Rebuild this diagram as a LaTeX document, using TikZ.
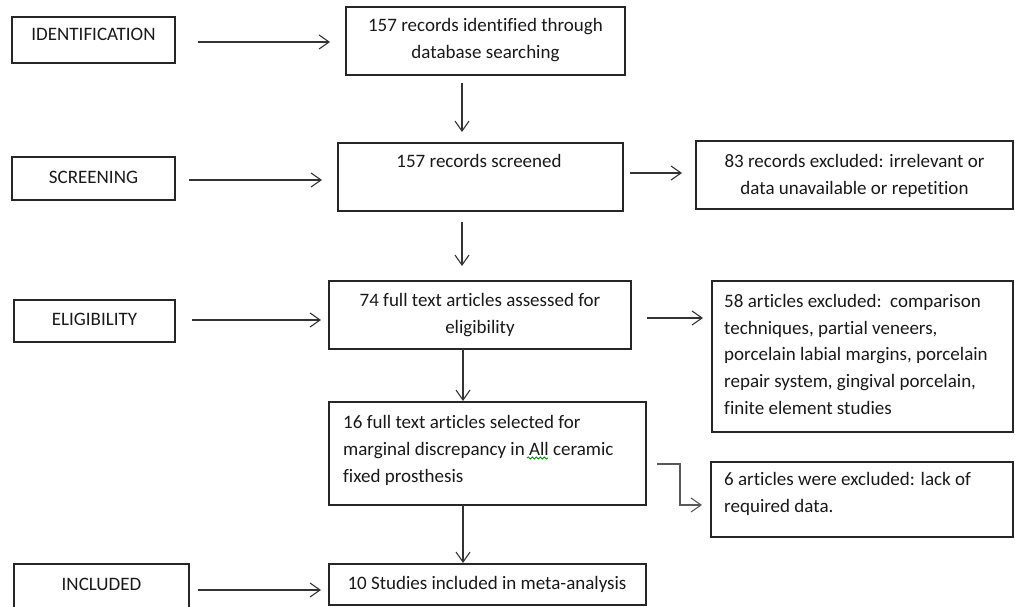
\documentclass[tikz,border=0pt]{standalone}
\usepackage{fontspec}
\setmainfont{Carlito}[Ligatures=NoCommon]
\usetikzlibrary{arrows.meta,calc,decorations.pathmorphing}
\begin{document}
\begin{tikzpicture}[x=1pt,y=-1pt,
  box/.style={draw=black!85, line width=1.2pt, anchor=north west, inner sep=0pt, outer sep=0pt},
  txt/.style={font=\fontsize{19}{26.8}\selectfont, inner sep=0pt, text=black!90},
  arr/.style={draw=black!80, line width=1.1pt, -{Straight Barb[length=10pt,width=14pt,line width=1.1pt]}},
  squiggle/.style={draw=green!55!black, line width=0.8pt, decorate, decoration={snake, segment length=4pt, amplitude=1.1pt}}]
\useasboundingbox (0,0) rectangle (1015,607);
% boxes
\node[box, minimum width=163pt, minimum height=46pt] (idb) at (12,17) {};
\node[box, minimum width=279pt, minimum height=68pt] (rec1) at (346,7) {};
\node[box, minimum width=163pt, minimum height=43pt] (scrb) at (12,157) {};
\node[box, minimum width=285pt, minimum height=68pt] (rec2) at (338,143) {};
\node[box, minimum width=317pt, minimum height=68pt] (exc1) at (696,141) {};
\node[box, minimum width=161pt, minimum height=42pt] (elb) at (14,300) {};
\node[box, minimum width=302pt, minimum height=68pt] (rec3) at (329,281) {};
\node[box, minimum width=301pt, minimum height=151pt] (exc2) at (712,281) {};
\node[box, minimum width=317pt, minimum height=103pt] (rec4) at (329,402) {};
\node[box, minimum width=302pt, minimum height=75pt] (exc3) at (711,462) {};
\node[box, minimum width=175pt, minimum height=46pt] (inb) at (14,564) {};
\node[box, minimum width=317pt, minimum height=41pt] (rec5) at (329,564) {};
% texts (multi-line nodes: base = last line)
\node[txt, anchor=base] (tid) at (93.5,41) {IDENTIFICATION};
\node[txt, anchor=base, align=center] (trec1) at (485.5,58.5) {157 records identified through\\database searching};
\node[txt, anchor=base] (tscr) at (93.5,183) {SCREENING};
\node[txt, anchor=base] (trec2) at (479,167.5) {157 records screened};
\node[txt, anchor=base, align=center] (texc1) at (854.5,194.5) {83 records excluded: irrelevant or\\data unavailable or repetition};
\node[txt, anchor=base] (tel) at (94.5,325) {ELIGIBILITY};
\node[txt, anchor=base, align=center] (trec3) at (480,333.5) {74 full text articles assessed for\\eligibility};
\node[txt, anchor=base west, align=left] (texc2) at (724,414.5) {58 articles excluded:\ \ comparison\\techniques, partial veneers,\\porcelain labial margins, porcelain\\repair system, gingival porcelain,\\finite element studies};
\node[txt, anchor=base west, align=left] (trec4) at (343,482.5) {16 full text articles selected for\\marginal discrepancy in All ceramic\\fixed prosthesis};
\node[txt, anchor=base west, align=left] (texc3) at (724,512.5) {6 articles were excluded: lack of\\required data.};
\node[txt, anchor=base] (tin) at (101.5,590) {INCLUDED};
\node[txt, anchor=base] (trec5) at (487,589) {10 Studies included in meta-analysis};
% spell-check underline under "All"
\draw[squiggle] (527,458) -- (548,458);
% connectors
\draw[arr] ($(idb.east)+(23,2)$) -- ($(rec1.west)+(-16,1)$);
\draw[arr] ($(rec1.south west)+(116,8)$) -- ($(rec2.north west)+(124,-11)$);
\draw[arr] ($(scrb.east)+(14,1.5)$) -- ($(rec2.west)+(-16,3)$);
\draw[arr] ($(rec2.east)+(7,-4)$) -- ($(exc1.west)+(-14,-2)$);
\draw[arr] ($(rec2.south west)+(124,11)$) -- ($(rec3.north west)+(133,-15)$);
\draw[arr] ($(elb.east)+(17,-1)$) -- ($(rec3.west)+(-8,5)$);
\draw[arr] ($(rec3.east)+(16,3)$) -- ($(exc2.west |- rec3.east)+(-9,3)$);
\draw[arr] ($(rec3.south west)+(134,0)$) -- ($(rec4.north west)+(134,-1)$);
\draw[arr, draw=black!65] ($(rec4.east)+(11,10.5)$) -- ++(23,0) |- ($(exc3.west)+(-9,5.5)$);
\draw[arr] ($(rec4.south west)+(134,0)$) -- ($(rec5.north west)+(134,-1)$);
\draw[arr] ($(inb.east)+(9,3)$) -- ($(rec5.west)+(-8,5.5)$);
\end{tikzpicture}
\end{document}
